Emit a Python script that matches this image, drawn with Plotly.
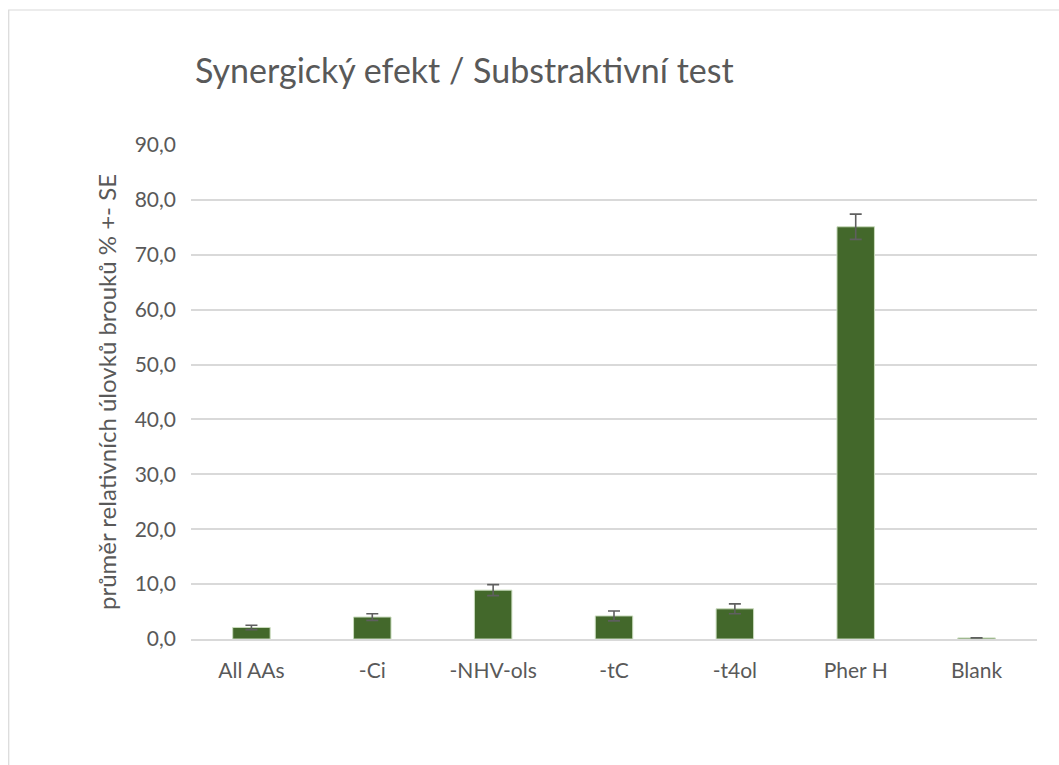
import plotly.graph_objects as go

categories = ["All AAs", "-Ci", "-NHV-ols", "-tC", "-t4ol", "Pher H", "Blank"]
means = [2.1, 4.0, 8.9, 4.2, 5.5, 75.1, 0.2]
se = [0.4, 0.6, 1.0, 0.9, 0.9, 2.3, 0.0]

W, H = 1059, 765
L, R = 190.5, 1037.5
T, B = 145, 639

fig = go.Figure()
fig.add_trace(go.Bar(
    x=categories, y=means,
    marker=dict(color="#43682B", line=dict(color="#c9dbbd", width=1)),
    width=0.31,
    error_y=dict(type="data", array=se, visible=True, color="#5f5f5f", thickness=1.6, width=6),
))

pw = R - L
ph = B - T
FONT = "Lato, Open Sans, sans-serif"

fig.update_layout(
    width=W, height=H,
    margin=dict(l=L, r=W - R, t=T, b=H - B, autoexpand=False),
    paper_bgcolor="white", plot_bgcolor="white",
    separators=",.",
    showlegend=False,
    font=dict(family=FONT, color="#595959", size=21),
    title=dict(text="Synergický efekt / Substraktivní test", x=195 / W, xanchor="left",
               xref="container", y=1 - 71 / H, yanchor="middle", yref="container",
               font=dict(size=34, color="#595959", family=FONT)),
    xaxis=dict(showline=True, linecolor="#d9d9d9", linewidth=1.5, ticks="", showgrid=False,
               tickfont=dict(size=21, color="#595959"), ticklabelstandoff=12),
    yaxis=dict(range=[0, 90], dtick=10, tickformat=".1f", showgrid=True, gridcolor="#d9d9d9",
               gridwidth=1.5, zeroline=False, showline=False, ticks="",
               tickfont=dict(size=21, color="#595959"), ticklabelstandoff=14,
               title=dict(text="průměr relativních úlovků brouků % +- SE", standoff=11,
                          font=dict(size=24, color="#595959"))),
    shapes=[dict(type="rect", xref="paper", yref="paper",
                 x0=(8 - L) / pw, x1=(1070 - L) / pw,
                 y0=(B - 790) / ph, y1=(B - 10) / ph,
                 line=dict(color="#d9d9d9", width=1.2), fillcolor="rgba(0,0,0,0)", layer="below")],
)

fig.write_html("out.html", config={"displayModeBar": False},
               post_script="document.body.style.margin='0';")
